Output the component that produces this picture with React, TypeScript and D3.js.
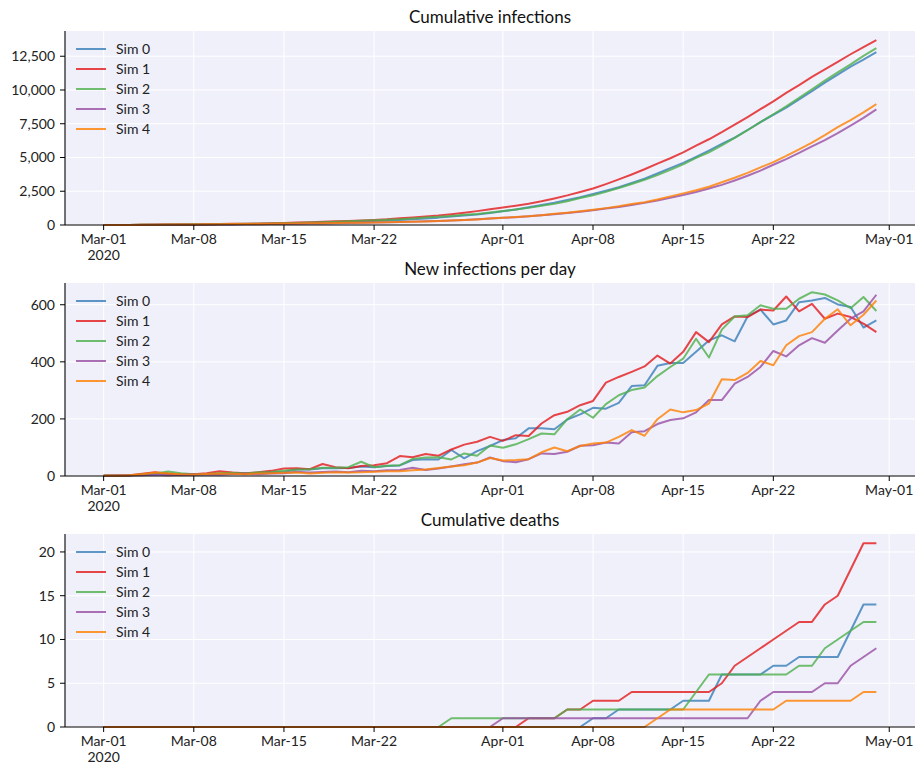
import React from 'react';
import * as d3 from 'd3';

const simNames = ['Sim 0', 'Sim 1', 'Sim 2', 'Sim 3', 'Sim 4'];
const simColors = ['#377eb8', '#e41a1c', '#4daf4a', '#984ea3', '#ff7f00'];

const startDay = '2020-03-01';
const dayCount = 61;

const xTickDates = ['2020-03-01', '2020-03-08', '2020-03-15', '2020-03-22', '2020-04-01', '2020-04-08', '2020-04-15', '2020-04-22', '2020-05-01'];

// Cumulative infections
const cumInf0 = [2, 3, 6, 10, 16, 25, 30, 37, 43, 51, 61, 70, 81, 94, 109, 132, 155, 182, 209, 237, 270, 301, 336, 373, 429, 488, 546, 637, 699, 786, 891, 1017, 1149, 1316, 1483, 1647, 1845, 2061, 2300, 2536, 2792, 3107, 3425, 3811, 4207, 4603, 5038, 5513, 6006, 6478, 7037, 7620, 8151, 8696, 9305, 9920, 10544, 11145, 11737, 12257, 12802];
const cumInf1 = [1, 3, 6, 14, 27, 35, 40, 46, 56, 73, 85, 95, 108, 126, 152, 179, 203, 245, 276, 303, 338, 376, 421, 491, 557, 634, 705, 798, 908, 1028, 1165, 1288, 1431, 1571, 1755, 1968, 2193, 2441, 2704, 3031, 3378, 3743, 4127, 4549, 4943, 5378, 5882, 6351, 6882, 7441, 7998, 8581, 9161, 9790, 10367, 10970, 11521, 12090, 12647, 13181, 13685];
const cumInf2 = [2, 3, 5, 10, 19, 35, 45, 51, 58, 68, 79, 88, 101, 115, 133, 156, 180, 209, 238, 269, 319, 350, 386, 424, 484, 549, 615, 673, 752, 823, 930, 1029, 1140, 1269, 1418, 1564, 1763, 1996, 2200, 2452, 2735, 3036, 3346, 3696, 4078, 4489, 4970, 5385, 5898, 6457, 7020, 7618, 8204, 8790, 9411, 10055, 10691, 11306, 11894, 12521, 13099];
const cumInf3 = [1, 3, 5, 8, 13, 16, 20, 26, 31, 35, 42, 50, 56, 65, 75, 90, 102, 116, 132, 145, 163, 180, 200, 221, 250, 271, 297, 330, 371, 418, 483, 535, 583, 642, 721, 798, 883, 989, 1097, 1214, 1328, 1481, 1638, 1820, 2016, 2218, 2441, 2707, 2973, 3297, 3644, 4026, 4464, 4883, 5341, 5824, 6291, 6801, 7352, 7929, 8564];
const cumInf4 = [2, 3, 6, 12, 24, 33, 39, 44, 51, 60, 68, 74, 83, 93, 104, 116, 125, 136, 149, 161, 174, 189, 206, 223, 243, 266, 294, 327, 365, 412, 475, 529, 585, 644, 727, 827, 914, 1019, 1133, 1250, 1387, 1548, 1689, 1888, 2121, 2344, 2575, 2829, 3168, 3504, 3865, 4268, 4656, 5114, 5604, 6108, 6659, 7243, 7771, 8336, 8951];

// New infections per day
const newInf0 = [2, 1, 3, 4, 6, 9, 5, 7, 6, 8, 10, 9, 11, 13, 15, 23, 23, 27, 27, 28, 33, 31, 35, 37, 56, 59, 58, 91, 62, 87, 105, 126, 132, 167, 167, 164, 198, 216, 239, 236, 256, 315, 318, 386, 396, 396, 435, 475, 493, 472, 559, 583, 531, 545, 609, 615, 624, 601, 592, 520, 545];
const newInf1 = [1, 2, 3, 8, 13, 8, 5, 6, 10, 17, 12, 10, 13, 18, 26, 27, 24, 42, 31, 27, 35, 38, 45, 70, 66, 77, 71, 93, 110, 120, 137, 123, 143, 140, 184, 213, 225, 248, 263, 327, 347, 365, 384, 422, 394, 435, 504, 469, 531, 559, 557, 583, 580, 629, 577, 603, 551, 569, 557, 534, 504];
const newInf2 = [2, 1, 2, 5, 9, 16, 10, 6, 7, 10, 11, 9, 13, 14, 18, 23, 24, 29, 29, 31, 50, 31, 36, 38, 60, 65, 66, 58, 79, 71, 107, 99, 111, 129, 149, 146, 199, 233, 204, 252, 283, 301, 310, 350, 382, 411, 481, 415, 513, 559, 563, 598, 586, 586, 621, 644, 636, 615, 588, 627, 578];
const newInf3 = [1, 2, 2, 3, 5, 3, 4, 6, 5, 4, 7, 8, 6, 9, 10, 15, 12, 14, 16, 13, 18, 17, 20, 21, 29, 21, 26, 33, 41, 47, 65, 52, 48, 59, 79, 77, 85, 106, 108, 117, 114, 153, 157, 182, 196, 202, 223, 266, 266, 324, 347, 382, 438, 419, 458, 483, 467, 510, 551, 577, 635];
const newInf4 = [2, 1, 3, 6, 12, 9, 6, 5, 7, 9, 8, 6, 9, 10, 11, 12, 9, 11, 13, 12, 13, 15, 17, 17, 20, 23, 28, 33, 38, 47, 63, 54, 56, 59, 83, 100, 87, 105, 114, 117, 137, 161, 141, 199, 233, 223, 231, 254, 339, 336, 361, 403, 388, 458, 490, 504, 551, 584, 528, 565, 615];

// Cumulative deaths
const cumDeaths0 = [0, 0, 0, 0, 0, 0, 0, 0, 0, 0, 0, 0, 0, 0, 0, 0, 0, 0, 0, 0, 0, 0, 0, 0, 0, 0, 0, 0, 0, 0, 0, 0, 0, 0, 0, 0, 0, 0, 1, 1, 2, 2, 2, 2, 2, 3, 3, 3, 6, 6, 6, 6, 7, 7, 8, 8, 8, 8, 11, 14, 14];
const cumDeaths1 = [0, 0, 0, 0, 0, 0, 0, 0, 0, 0, 0, 0, 0, 0, 0, 0, 0, 0, 0, 0, 0, 0, 0, 0, 0, 0, 0, 0, 0, 0, 0, 0, 0, 1, 1, 1, 2, 2, 3, 3, 3, 4, 4, 4, 4, 4, 4, 4, 5, 7, 8, 9, 10, 11, 12, 12, 14, 15, 18, 21, 21];
const cumDeaths2 = [0, 0, 0, 0, 0, 0, 0, 0, 0, 0, 0, 0, 0, 0, 0, 0, 0, 0, 0, 0, 0, 0, 0, 0, 0, 0, 0, 1, 1, 1, 1, 1, 1, 1, 1, 1, 2, 2, 2, 2, 2, 2, 2, 2, 2, 2, 4, 6, 6, 6, 6, 6, 6, 6, 7, 7, 9, 10, 11, 12, 12];
const cumDeaths3 = [0, 0, 0, 0, 0, 0, 0, 0, 0, 0, 0, 0, 0, 0, 0, 0, 0, 0, 0, 0, 0, 0, 0, 0, 0, 0, 0, 0, 0, 0, 0, 1, 1, 1, 1, 1, 1, 1, 1, 1, 1, 1, 1, 1, 1, 1, 1, 1, 1, 1, 1, 3, 4, 4, 4, 4, 5, 5, 7, 8, 9];
const cumDeaths4 = [0, 0, 0, 0, 0, 0, 0, 0, 0, 0, 0, 0, 0, 0, 0, 0, 0, 0, 0, 0, 0, 0, 0, 0, 0, 0, 0, 0, 0, 0, 0, 0, 0, 0, 0, 0, 0, 0, 0, 0, 0, 0, 0, 1, 2, 2, 2, 2, 2, 2, 2, 2, 2, 3, 3, 3, 3, 3, 3, 4, 4];

const infTicks = [0, 2500, 5000, 7500, 10000, 12500];
const newTicks = [0, 200, 400, 600];
const deathTicks = [0, 5, 10, 15, 20];

const panels = [
  { title: 'Cumulative infections', series: [cumInf0, cumInf1, cumInf2, cumInf3, cumInf4], ticks: infTicks, top: 31, bottom: 225 },
  { title: 'New infections per day', series: [newInf0, newInf1, newInf2, newInf3, newInf4], ticks: newTicks, top: 283, bottom: 476 },
  { title: 'Cumulative deaths', series: [cumDeaths0, cumDeaths1, cumDeaths2, cumDeaths3, cumDeaths4], ticks: deathTicks, top: 534, bottom: 727 },
];

const W = 924;
const H = 775;
const left = 65;
const right = 915;
const FONT = 'Lato, "DejaVu Sans", sans-serif';
const BG = '#f0f0fb';

export default function App() {
  const parse = d3.utcParse('%Y-%m-%d');
  const start = parse(startDay) as Date;
  const dates = d3.range(dayCount).map((i) => d3.utcDay.offset(start, i));
  const x = d3
    .scaleUtc()
    .domain([d3.utcDay.offset(dates[0], -3), d3.utcDay.offset(dates[dates.length - 1], 3)])
    .range([left, right]);
  const tickDates = xTickDates.map((s) => parse(s) as Date);
  const fmt = d3.utcFormat('%b-%d');
  const yfmt = d3.format(',');

  return (
    <svg width={W} height={H} style={{ position: 'absolute', left: 0, top: 0, background: '#fff' }} fontFamily={FONT}>
      {panels.map((p, pi) => {
        const maxV = d3.max(p.series.flat()) as number;
        const y = d3.scaleLinear().domain([0, maxV * 1.05]).range([p.bottom, p.top]);
        const line = d3
          .line<number>()
          .x((_, i) => x(dates[i]))
          .y((v) => y(v));
        return (
          <g key={pi}>
            <rect x={left} y={p.top} width={right - left} height={p.bottom - p.top} fill={BG} />
            {tickDates.map((d, i) => (
              <line key={'gx' + i} x1={x(d)} x2={x(d)} y1={p.top} y2={p.bottom} stroke="#fff" strokeWidth={1} />
            ))}
            {p.ticks.map((t, i) => (
              <line key={'gy' + i} x1={left} x2={right} y1={y(t)} y2={y(t)} stroke="#fff" strokeWidth={1} />
            ))}
            {p.series.map((s, si) => (
              <path
                key={'s' + si}
                d={line(s) as string}
                fill="none"
                stroke={simColors[si]}
                strokeOpacity={0.8}
                strokeWidth={2}
                strokeLinejoin="round"
              />
            ))}
            <line x1={left} x2={left} y1={p.top} y2={p.bottom} stroke="#000" strokeWidth={1.1} />
            <line x1={left} x2={right} y1={p.bottom} y2={p.bottom} stroke="#000" strokeWidth={1.1} />
            {p.ticks.map((t, i) => (
              <g key={'ty' + i}>
                <line x1={left - 5} x2={left} y1={y(t)} y2={y(t)} stroke="#000" strokeWidth={1} />
                <text x={left - 10} y={y(t)} dy="0.35em" textAnchor="end" fontSize={14} fill="#222">
                  {yfmt(t)}
                </text>
              </g>
            ))}
            {tickDates.map((d, i) => (
              <g key={'tx' + i}>
                <line x1={x(d)} x2={x(d)} y1={p.bottom} y2={p.bottom + 5} stroke="#000" strokeWidth={1} />
                <text x={x(d)} y={p.bottom + 19} textAnchor="middle" fontSize={14} fill="#222">
                  {fmt(d)}
                </text>
                {i === 0 && (
                  <text x={x(d)} y={p.bottom + 35} textAnchor="middle" fontSize={14} fill="#222">
                    {d3.utcFormat('%Y')(d)}
                  </text>
                )}
              </g>
            ))}
            <text x={(left + right) / 2} y={p.top - 8} textAnchor="middle" fontSize={17} fill="#111">
              {p.title}
            </text>
            {simNames.map((n, si) => (
              <g key={'lg' + si}>
                <line
                  x1={76}
                  x2={106}
                  y1={p.top + 18 + 20 * si}
                  y2={p.top + 18 + 20 * si}
                  stroke={simColors[si]}
                  strokeOpacity={0.8}
                  strokeWidth={2}
                />
                <text x={116} y={p.top + 18 + 20 * si} dy="0.35em" fontSize={14} fill="#222">
                  {n}
                </text>
              </g>
            ))}
          </g>
        );
      })}
    </svg>
  );
}
